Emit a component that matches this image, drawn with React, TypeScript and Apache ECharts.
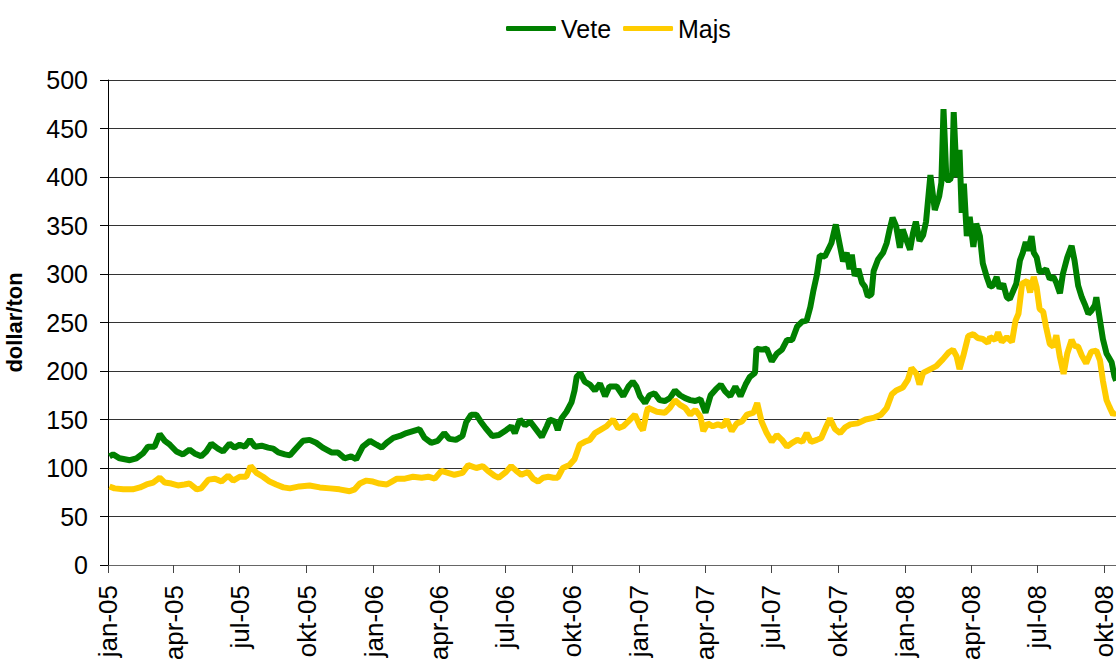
import React, { useEffect, useRef } from "react";
import * as echarts from "echarts";

const START_DATE = "2005-01-01";
const END_DATE = "2008-10-17";
const MONTHS_SV = ["jan", "feb", "mar", "apr", "maj", "jun", "jul", "aug", "sep", "okt", "nov", "dec"];
const TICK_MONTHS = ["01", "04", "07", "10"];
const Y_TICKS = [0, 50, 100, 150, 200, 250, 300, 350, 400, 450, 500];
const SERIES_NAMES = ["Vete", "Majs"];

const wheat: [string, number][] = [
  ["2005-01-03", 112], ["2005-01-08", 114], ["2005-01-17", 110], ["2005-01-31", 108], ["2005-02-09", 110],
  ["2005-02-18", 115], ["2005-02-25", 122], ["2005-03-06", 122], ["2005-03-13", 135], ["2005-03-20", 128],
  ["2005-03-27", 124], ["2005-04-05", 117], ["2005-04-14", 114], ["2005-04-23", 119], ["2005-04-30", 115],
  ["2005-05-09", 112], ["2005-05-16", 117], ["2005-05-23", 125], ["2005-06-01", 120], ["2005-06-08", 117],
  ["2005-06-17", 125], ["2005-06-24", 121], ["2005-07-01", 124], ["2005-07-08", 122], ["2005-07-15", 129],
  ["2005-07-22", 122], ["2005-07-31", 123], ["2005-08-09", 121], ["2005-08-16", 120], ["2005-08-23", 116],
  ["2005-09-01", 114], ["2005-09-08", 113], ["2005-09-15", 119], ["2005-09-26", 128], ["2005-10-05", 129],
  ["2005-10-14", 126], ["2005-10-23", 121], ["2005-11-04", 116], ["2005-11-13", 116], ["2005-11-22", 110],
  ["2005-12-01", 112], ["2005-12-08", 109], ["2005-12-17", 122], ["2005-12-27", 128], ["2006-01-05", 124],
  ["2006-01-12", 121], ["2006-01-19", 126], ["2006-01-28", 131], ["2006-02-06", 133], ["2006-02-15", 136],
  ["2006-02-24", 138], ["2006-03-05", 140], ["2006-03-12", 131], ["2006-03-21", 126], ["2006-03-30", 128],
  ["2006-04-08", 136], ["2006-04-15", 130], ["2006-04-24", 129], ["2006-05-03", 133], ["2006-05-08", 147],
  ["2006-05-15", 155], ["2006-05-22", 155], ["2006-05-28", 148], ["2006-06-04", 141], ["2006-06-13", 133],
  ["2006-06-22", 134], ["2006-07-02", 139], ["2006-07-09", 143], ["2006-07-14", 136], ["2006-07-21", 150],
  ["2006-07-28", 144], ["2006-08-04", 148], ["2006-08-13", 139], ["2006-08-20", 132], ["2006-08-27", 143],
  ["2006-08-31", 150], ["2006-09-07", 148], ["2006-09-11", 139], ["2006-09-16", 151], ["2006-09-23", 158],
  ["2006-09-30", 168], ["2006-10-04", 180], ["2006-10-07", 194], ["2006-10-12", 198], ["2006-10-18", 189],
  ["2006-10-25", 186], ["2006-11-01", 180], ["2006-11-08", 187], ["2006-11-15", 174], ["2006-11-21", 184],
  ["2006-12-01", 184], ["2006-12-10", 174], ["2006-12-17", 184], ["2006-12-23", 189], ["2006-12-28", 184],
  ["2007-01-02", 174], ["2007-01-09", 167], ["2007-01-15", 175], ["2007-01-22", 177], ["2007-01-29", 170],
  ["2007-02-05", 169], ["2007-02-12", 172], ["2007-02-19", 180], ["2007-02-26", 175], ["2007-03-05", 172],
  ["2007-03-12", 170], ["2007-03-19", 169], ["2007-03-26", 171], ["2007-04-02", 157], ["2007-04-09", 175],
  ["2007-04-16", 181], ["2007-04-23", 186], ["2007-04-29", 179], ["2007-05-06", 174], ["2007-05-13", 184],
  ["2007-05-20", 174], ["2007-05-27", 186], ["2007-06-02", 194], ["2007-06-09", 198], ["2007-06-11", 223],
  ["2007-06-18", 222], ["2007-06-25", 223], ["2007-07-02", 210], ["2007-07-09", 218], ["2007-07-16", 222],
  ["2007-07-23", 232], ["2007-07-30", 232], ["2007-08-06", 246], ["2007-08-13", 251], ["2007-08-19", 252],
  ["2007-08-24", 266], ["2007-08-28", 282], ["2007-09-02", 299], ["2007-09-06", 319], ["2007-09-13", 318],
  ["2007-09-22", 332], ["2007-09-28", 351], ["2007-10-04", 328], ["2007-10-08", 313], ["2007-10-13", 322],
  ["2007-10-17", 305], ["2007-10-20", 320], ["2007-10-24", 298], ["2007-10-29", 305], ["2007-11-03", 291],
  ["2007-11-07", 287], ["2007-11-11", 277], ["2007-11-16", 279], ["2007-11-19", 303], ["2007-11-25", 315],
  ["2007-12-02", 322], ["2007-12-07", 332], ["2007-12-11", 346], ["2007-12-15", 358], ["2007-12-20", 349],
  ["2007-12-25", 327], ["2007-12-29", 346], ["2008-01-03", 335], ["2008-01-08", 325], ["2008-01-12", 342],
  ["2008-01-16", 354], ["2008-01-21", 334], ["2008-01-26", 340], ["2008-01-30", 354], ["2008-02-05", 402],
  ["2008-02-11", 366], ["2008-02-17", 380], ["2008-02-20", 394], ["2008-02-23", 470], ["2008-02-27", 397],
  ["2008-03-03", 397], ["2008-03-06", 404], ["2008-03-08", 467], ["2008-03-12", 400], ["2008-03-16", 428],
  ["2008-03-19", 363], ["2008-03-22", 393], ["2008-03-26", 339], ["2008-03-30", 359], ["2008-04-04", 328],
  ["2008-04-08", 352], ["2008-04-13", 339], ["2008-04-17", 311], ["2008-04-22", 298], ["2008-04-27", 287],
  ["2008-05-01", 288], ["2008-05-06", 297], ["2008-05-10", 285], ["2008-05-15", 290], ["2008-05-20", 276],
  ["2008-05-24", 274], ["2008-05-29", 283], ["2008-06-02", 290], ["2008-06-07", 314], ["2008-06-11", 322],
  ["2008-06-15", 333], ["2008-06-18", 324], ["2008-06-23", 339], ["2008-06-26", 322], ["2008-06-30", 317],
  ["2008-07-04", 302], ["2008-07-09", 303], ["2008-07-13", 305], ["2008-07-18", 295], ["2008-07-23", 297],
  ["2008-07-27", 291], ["2008-08-01", 280], ["2008-08-05", 300], ["2008-08-11", 317], ["2008-08-17", 329],
  ["2008-08-21", 314], ["2008-08-26", 288], ["2008-08-31", 276], ["2008-09-04", 269], ["2008-09-09", 259],
  ["2008-09-13", 262], ["2008-09-18", 268], ["2008-09-20", 276], ["2008-09-25", 252], ["2008-09-29", 233],
  ["2008-10-04", 218], ["2008-10-11", 209], ["2008-10-15", 194], ["2008-10-17", 190],
];

const corn: [string, number][] = [
  ["2005-01-03", 81], ["2005-01-10", 79], ["2005-01-22", 78], ["2005-02-04", 78], ["2005-02-14", 80],
  ["2005-02-23", 83], ["2005-03-04", 85], ["2005-03-13", 90], ["2005-03-20", 85], ["2005-03-29", 84],
  ["2005-04-07", 82], ["2005-04-16", 83], ["2005-04-23", 84], ["2005-05-03", 78], ["2005-05-09", 79],
  ["2005-05-19", 88], ["2005-05-28", 89], ["2005-06-06", 86], ["2005-06-15", 92], ["2005-06-22", 87],
  ["2005-07-01", 91], ["2005-07-10", 91], ["2005-07-16", 102], ["2005-07-24", 95], ["2005-08-02", 91],
  ["2005-08-11", 86], ["2005-08-20", 83], ["2005-08-30", 80], ["2005-09-08", 79], ["2005-09-21", 81],
  ["2005-10-05", 82], ["2005-10-19", 80], ["2005-11-02", 79], ["2005-11-15", 78], ["2005-11-29", 76],
  ["2005-12-06", 78], ["2005-12-13", 84], ["2005-12-22", 87], ["2005-12-31", 86], ["2006-01-09", 84],
  ["2006-01-19", 83], ["2006-01-26", 86], ["2006-02-02", 89], ["2006-02-13", 89], ["2006-02-24", 91],
  ["2006-03-08", 90], ["2006-03-17", 91], ["2006-03-26", 89], ["2006-04-04", 97], ["2006-04-13", 95],
  ["2006-04-22", 93], ["2006-05-03", 95], ["2006-05-11", 103], ["2006-05-22", 100], ["2006-05-31", 102],
  ["2006-06-07", 97], ["2006-06-16", 92], ["2006-06-22", 90], ["2006-07-02", 96], ["2006-07-09", 102],
  ["2006-07-16", 97], ["2006-07-23", 93], ["2006-08-01", 96], ["2006-08-08", 89], ["2006-08-15", 86],
  ["2006-08-22", 90], ["2006-08-29", 91], ["2006-09-05", 90], ["2006-09-11", 90], ["2006-09-18", 100],
  ["2006-09-27", 103], ["2006-10-04", 109], ["2006-10-11", 124], ["2006-10-18", 127], ["2006-10-25", 129],
  ["2006-11-01", 136], ["2006-11-08", 139], ["2006-11-17", 143], ["2006-11-26", 150], ["2006-12-03", 141],
  ["2006-12-10", 143], ["2006-12-17", 148], ["2006-12-26", 155], ["2007-01-02", 143], ["2007-01-06", 139],
  ["2007-01-11", 157], ["2007-01-13", 162], ["2007-01-25", 158], ["2007-02-05", 157], ["2007-02-12", 162],
  ["2007-02-19", 170], ["2007-02-26", 165], ["2007-03-05", 162], ["2007-03-12", 155], ["2007-03-19", 160],
  ["2007-03-26", 153], ["2007-03-30", 138], ["2007-04-05", 146], ["2007-04-12", 143], ["2007-04-19", 145],
  ["2007-04-26", 143], ["2007-05-01", 150], ["2007-05-08", 138], ["2007-05-15", 146], ["2007-05-22", 148],
  ["2007-05-29", 155], ["2007-06-07", 157], ["2007-06-12", 167], ["2007-06-18", 148], ["2007-06-25", 136],
  ["2007-07-02", 127], ["2007-07-09", 134], ["2007-07-16", 129], ["2007-07-23", 122], ["2007-07-30", 126],
  ["2007-08-06", 129], ["2007-08-13", 127], ["2007-08-19", 136], ["2007-08-25", 127], ["2007-09-02", 129],
  ["2007-09-08", 131], ["2007-09-15", 143], ["2007-09-20", 151], ["2007-09-27", 140], ["2007-10-04", 136],
  ["2007-10-11", 142], ["2007-10-18", 145], ["2007-10-28", 146], ["2007-11-08", 150], ["2007-11-20", 152],
  ["2007-11-29", 155], ["2007-12-05", 160], ["2007-12-07", 162], ["2007-12-14", 176], ["2007-12-20", 180],
  ["2007-12-29", 183], ["2008-01-05", 191], ["2008-01-10", 203], ["2008-01-17", 197], ["2008-01-21", 186],
  ["2008-01-26", 198], ["2008-02-05", 202], ["2008-02-13", 205], ["2008-02-22", 212], ["2008-03-01", 219],
  ["2008-03-07", 222], ["2008-03-12", 215], ["2008-03-16", 202], ["2008-03-21", 215], ["2008-03-28", 236],
  ["2008-04-04", 238], ["2008-04-10", 234], ["2008-04-17", 233], ["2008-04-24", 229], ["2008-04-27", 235],
  ["2008-05-04", 232], ["2008-05-08", 240], ["2008-05-13", 230], ["2008-05-20", 235], ["2008-05-27", 230],
  ["2008-06-01", 252], ["2008-06-05", 259], ["2008-06-10", 290], ["2008-06-17", 293], ["2008-06-21", 281],
  ["2008-06-26", 297], ["2008-06-30", 286], ["2008-07-04", 264], ["2008-07-09", 261], ["2008-07-13", 245],
  ["2008-07-18", 228], ["2008-07-23", 225], ["2008-07-27", 237], ["2008-08-01", 214], ["2008-08-06", 197],
  ["2008-08-11", 218], ["2008-08-17", 232], ["2008-08-21", 226], ["2008-08-26", 225], ["2008-08-31", 216],
  ["2008-09-06", 208], ["2008-09-13", 220], ["2008-09-20", 221], ["2008-09-25", 211], ["2008-09-29", 190],
  ["2008-10-04", 170], ["2008-10-08", 163], ["2008-10-13", 155], ["2008-10-17", 158],
];

function buildDays(start: string, end: string): string[] {
  const out: string[] = [];
  const d = new Date(start + "T00:00:00Z");
  const e = new Date(end + "T00:00:00Z");
  while (d.getTime() <= e.getTime()) {
    out.push(d.toISOString().slice(0, 10));
    d.setUTCDate(d.getUTCDate() + 1);
  }
  return out;
}

function isQuarterStart(value: string): boolean {
  return value.slice(8, 10) === "01" && TICK_MONTHS.includes(value.slice(5, 7));
}

const FONT = "'Liberation Sans', Arial, sans-serif";

export default function App() {
  const ref = useRef<HTMLDivElement>(null);

  useEffect(() => {
    if (!ref.current) return;
    const chart = echarts.init(ref.current, undefined, { renderer: "svg" });
    const days = buildDays(START_DATE, END_DATE);
    chart.setOption({
      animation: false,
      backgroundColor: "#ffffff",
      textStyle: { fontFamily: FONT },
      legend: {
        data: SERIES_NAMES,
        left: 501,
        top: 11,
        icon: "roundRect",
        itemWidth: 50,
        itemHeight: 5,
        itemGap: 12,
        textStyle: { fontSize: 25, color: "#000", fontFamily: FONT },
      },
      grid: { left: 108, right: 0, top: 80, bottom: 94, containLabel: false, outerBoundsMode: "none" },
      xAxis: {
        type: "category",
        data: days,
        boundaryGap: false,
        axisLine: { show: true, lineStyle: { color: "#666", width: 1 } },
        axisTick: {
          show: true,
          length: 8,
          interval: (_i: number, v: string) => isQuarterStart(v),
          lineStyle: { color: "#444" },
        },
        axisLabel: {
          interval: (_i: number, v: string) => isQuarterStart(v),
          rotate: 90,
          margin: 20,
          fontSize: 26,
          color: "#000",
          fontFamily: FONT,
          formatter: (v: string) => MONTHS_SV[parseInt(v.slice(5, 7), 10) - 1] + "-" + v.slice(2, 4),
        },
        splitLine: { show: false },
      },
      yAxis: {
        type: "value",
        min: Y_TICKS[0],
        max: Y_TICKS[Y_TICKS.length - 1],
        interval: Y_TICKS[1] - Y_TICKS[0],
        name: "dollar/ton",
        nameLocation: "middle",
        nameRotate: 90,
        nameGap: 83,
        nameTextStyle: { fontSize: 22, fontWeight: "bold", color: "#000", fontFamily: FONT },
        axisLine: { show: true, lineStyle: { color: "#000", width: 1 } },
        axisTick: { show: true, length: 8, lineStyle: { color: "#000" } },
        axisLabel: { fontSize: 25, color: "#000", margin: 20, fontFamily: FONT },
        splitLine: { show: true, lineStyle: { color: "#333", width: 1 } },
      },
      series: [
        {
          name: SERIES_NAMES[0],
          type: "line",
          data: wheat,
          symbol: "none",
          showSymbol: false,
          color: "#008000",
          lineStyle: { color: "#008000", width: 6 },
          z: 2,
        },
        {
          name: SERIES_NAMES[1],
          type: "line",
          data: corn,
          symbol: "none",
          showSymbol: false,
          color: "#FFCC00",
          lineStyle: { color: "#FFCC00", width: 6 },
          z: 3,
        },
      ],
    });
    return () => chart.dispose();
  }, []);

  return (
    <div
      ref={ref}
      style={{ position: "absolute", left: 0, top: 0, width: 1116, height: 659, background: "#fff" }}
    />
  );
}
